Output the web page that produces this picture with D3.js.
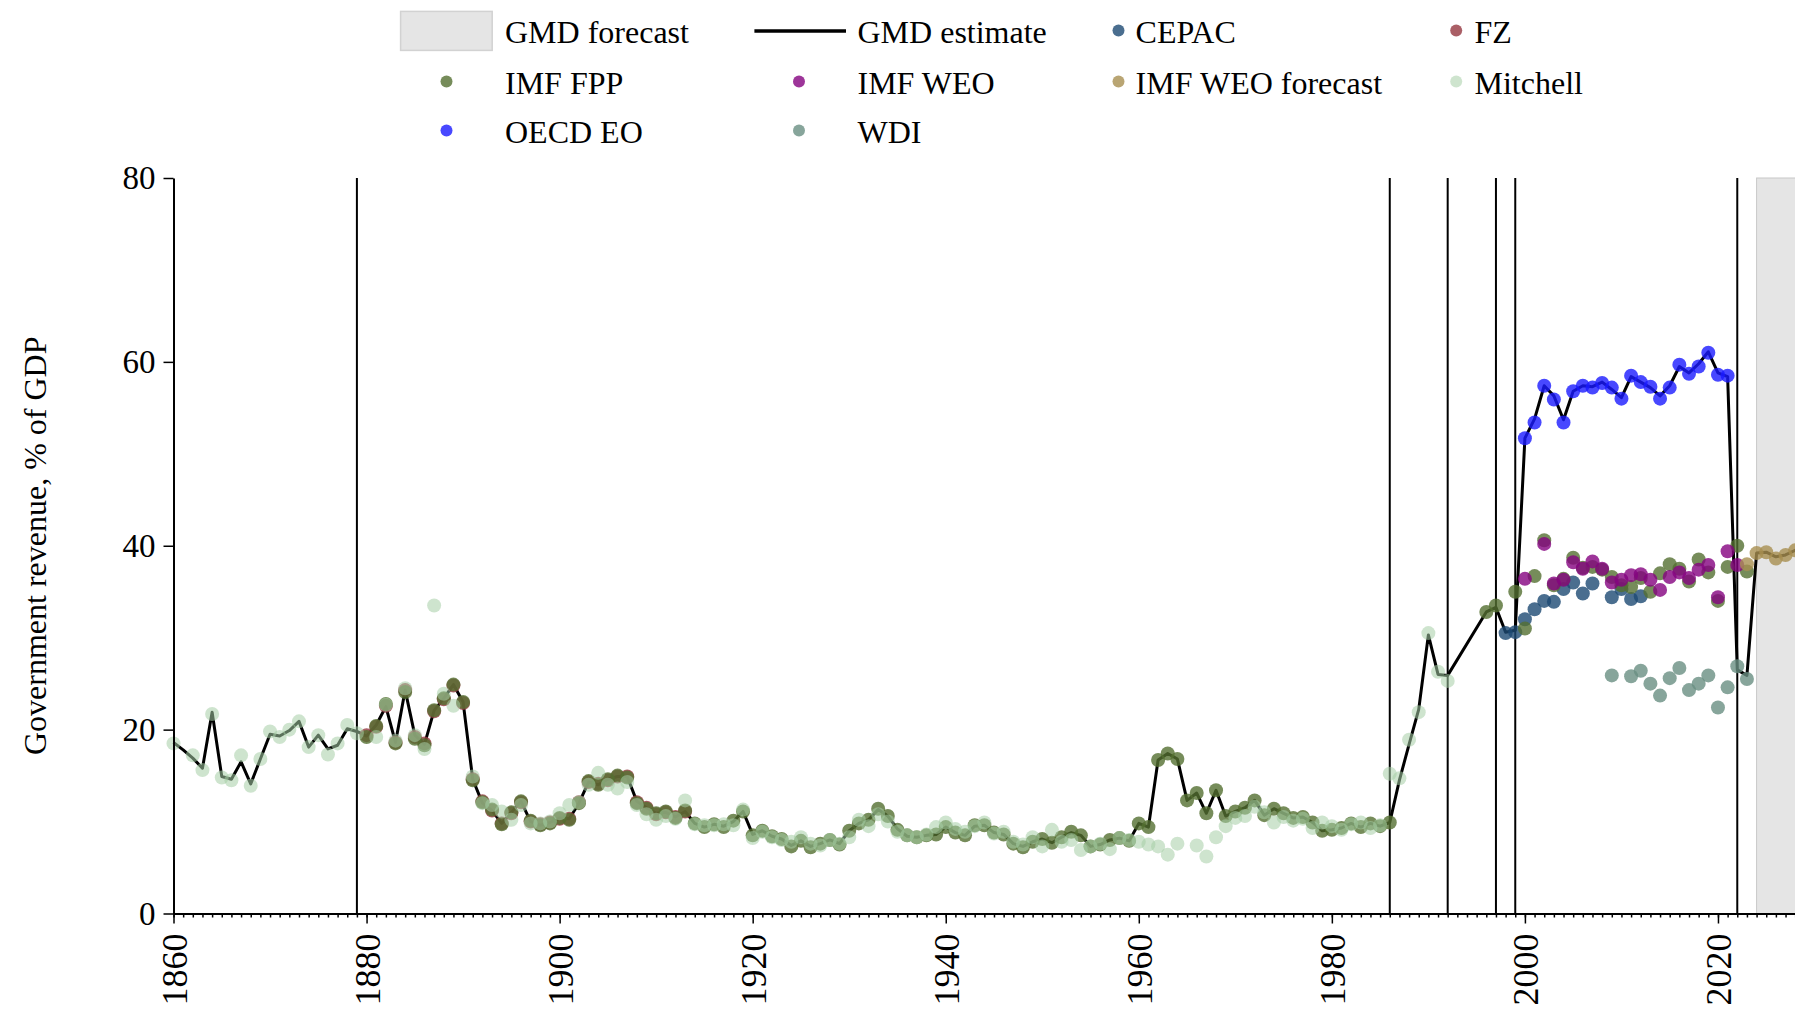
<!DOCTYPE html>
<html><head><meta charset="utf-8">
<script src="https://cdn.jsdelivr.net/npm/d3@7"></script>
<style>
html,body{margin:0;padding:0;background:#fff;}
svg{display:block;font-family:"Liberation Serif","Times New Roman",serif;}
</style></head><body>
<svg id="chart" width="1795" height="1015"></svg>
<script>
// ---------- data ----------
const gmdStart = 1860;
const gmdValues = [
 18.6,17.8,16.9,15.8,21.9,14.9,14.6,16.5,14.1,16.8,
 19.5,19.3,19.9,20.9,18.1,19.4,17.9,18.3,20.1,19.8,
 19.3,20.5,22.5,18.6,24.3,19.4,18.4,22.1,23.4,24.9,
 23.0,14.6,12.0,11.2,9.8,11.0,12.2,10.0,9.6,9.9,
 10.4,10.3,12.0,14.3,14.0,14.6,14.9,14.9,12.2,11.5,
 10.9,11.0,10.5,11.1,9.8,9.4,9.7,9.5,10.0,11.1,
 8.6,9.0,8.4,8.1,7.4,7.9,7.3,7.6,8.0,7.6,
 9.0,9.8,10.2,11.3,10.6,9.2,8.4,8.3,8.5,8.6,
 9.4,8.8,8.5,9.5,9.6,8.8,8.6,7.6,7.3,7.8,
 8.1,7.7,8.3,8.8,8.5,7.3,7.5,8.0,8.2,7.9,
 9.8,9.4,16.7,17.4,16.8,12.3,13.1,10.9,13.4,10.6,
 11.1,11.5,12.3,10.7,11.4,10.9,10.4,10.5,9.9,9.0,
 9.1,9.3,9.8,9.4,9.8,9.5,9.9,14.5,18.4,22.2,
 30.3,26.0,25.9,null,null,null,32.8,33.3,30.6,30.8,
 51.7,53.8,57.4,56.3,53.7,56.8,57.4,57.3,57.8,57.0,
 56.1,58.4,57.8,57.2,56.3,57.4,59.5,58.8,59.8,61.1,
 58.8,58.4,26.5,25.9,39.2,39.3,38.8,39.0,39.5,39.7,
 39.9
];

const cepacStart = 1998;
const cepacValues = [30.5,30.6,32.0,33.1,34.0,33.9,35.3,36.0,34.8,35.9,null,34.4,35.3,34.2,34.5];

const fzStart = 1880;
const fzValues = [
 19.4,20.3,22.6,18.6,24.3,19.2,18.5,22.0,23.3,24.8,
 22.9,14.6,12.2,11.2,9.8,10.9,12.1,10.0,9.7,9.9,
 10.3,10.3,12.1,14.3,14.1,14.5,14.9,14.9,12.1,11.5,
 10.8,11.0,10.5,11.1
];

const fppStart = 1880;
const fppValues = [
 19.2,20.4,22.8,18.5,24.1,19.0,18.3,22.1,23.4,24.9,
 23.0,14.5,12.1,11.3,9.7,11.0,12.2,10.1,9.6,9.8,
 10.4,10.2,12.0,14.4,14.0,14.6,15.0,14.8,12.0,11.4,
 10.9,11.1,10.4,11.2,9.8,9.4,9.7,9.4,10.1,11.1,
 8.5,9.0,8.4,8.1,7.3,7.9,7.2,7.6,8.0,7.5,
 9.0,9.8,10.2,11.4,10.6,9.1,8.5,8.3,8.5,8.6,
 9.4,8.8,8.5,9.6,9.6,8.8,8.6,7.6,7.2,7.8,
 8.1,7.7,8.3,8.9,8.5,7.3,7.5,8.0,8.2,7.9,
 9.8,9.4,16.7,17.4,16.8,12.3,13.1,10.9,13.4,10.6,
 11.1,11.5,12.3,10.7,11.4,10.9,10.4,10.5,9.9,9.0,
 9.1,9.3,9.8,9.4,9.8,9.5,9.9,null,null,null,
 null,null,null,null,null,null,32.8,33.5,null,35.0,
 31.0,36.7,40.6,35.7,36.4,38.7,37.6,37.7,37.4,36.6,
 35.7,35.5,36.5,35.0,37.0,38.0,37.5,36.1,38.5,37.1,
 34.0,37.7,40.0,37.2
];

const weoStart = 2000;
const weoValues = [36.4,null,40.2,35.9,36.3,38.2,37.5,38.3,37.5,36.0,36.3,36.8,36.9,36.3,35.2,36.6,37.1,36.5,37.4,37.9,34.4,39.4,37.9];

const weoFcStart = 2023;
const weoFcValues = [38.0,39.2,39.3,38.6,39.0,39.5,39.7];

const mitchellStart = 1860;
const mitchellValues = [
 18.5,null,17.2,15.6,21.7,14.8,14.5,17.2,13.9,16.8,
 19.8,19.2,20.0,20.9,18.1,19.4,17.3,18.5,20.5,19.6,
 null,19.2,22.7,18.8,24.5,19.4,17.9,33.5,23.9,22.6,
 null,14.9,12.0,11.8,11.1,10.2,11.8,9.8,9.8,10.0,
 10.9,11.8,12.1,14.0,15.3,14.0,13.6,14.3,11.8,10.8,
 10.2,10.6,10.3,12.3,9.7,9.6,9.6,9.7,9.6,11.3,
 8.2,8.9,8.3,8.0,7.8,8.3,7.6,7.4,8.0,7.6,
 8.3,10.2,9.5,10.8,10.0,8.9,8.5,8.3,8.6,9.4,
 9.9,9.2,8.9,9.5,9.9,8.7,8.9,7.8,7.5,8.3,
 7.3,9.1,7.8,8.0,6.9,7.3,7.6,7.0,8.2,8.0,
 7.8,7.5,7.3,6.4,7.6,null,7.4,6.2,8.3,9.5,
 10.4,10.6,11.6,11.0,9.9,10.5,10.1,10.3,9.3,9.9,
 9.5,9.1,9.7,9.9,9.3,9.6,15.2,14.7,18.9,21.9,
 30.5,26.3,25.3
];

const oecdStart = 2000;
const oecdValues = [51.7,53.4,57.4,55.9,53.4,56.8,57.4,57.2,57.7,57.2,56.0,58.5,57.8,57.3,56.0,57.2,59.7,58.7,59.5,61.0,58.6,58.5];

const wdiStart = 2009;
const wdiValues = [25.9,null,25.8,26.4,25.0,23.7,25.6,26.7,24.3,25.0,25.9,22.4,24.6,26.9,25.5];

const breakYears = [1879, 1986, 1992, 1997, 1999, 2022];
const forecastStart = 2024;
const xTicks = [1860,1880,1900,1920,1940,1960,1980,2000,2020];
const yTicks = [0,20,40,60,80];
const yLabel = "Government revenue, % of GDP";

const seriesNames = ["CEPAC","FZ","IMF FPP","IMF WEO","IMF WEO forecast","Mitchell","OECD EO","WDI"];
const seriesData = [
  [cepacStart, cepacValues],
  [fzStart, fzValues],
  [fppStart, fppValues],
  [weoStart, weoValues],
  [weoFcStart, weoFcValues],
  [mitchellStart, mitchellValues],
  [oecdStart, oecdValues],
  [wdiStart, wdiValues]
];
const seriesColors = ["#1d4a73","#953740","#546f31","#84037f","#a78f50","#a5cda5","#1a1aff","#698e82"];
const seriesOpacity = [0.8,0.8,0.8,0.8,0.8,0.55,0.8,0.8];

// ---------- chart ----------
const svg = d3.select("#chart");
const x = d3.scaleLinear().domain([1860, 2030]).range([173.5, 1814.5]);
const y = d3.scaleLinear().domain([0, 80]).range([913.5, 178]);

const toPts = (start, vals) => vals.map((v,i)=>({year:start+i, v})).filter(d=>d.v!=null);

const plot = svg.append("g");

plot.append("rect")
  .attr("x", x(forecastStart)).attr("y", y(80))
  .attr("width", x(2030)-x(forecastStart)).attr("height", y(0)-y(80))
  .attr("fill", "#e5e5e5").attr("stroke", "#c8c8c8").attr("stroke-width", 1);

plot.selectAll("line.brk").data(breakYears).join("line")
  .attr("class","brk")
  .attr("x1", d=>x(d)).attr("x2", d=>x(d))
  .attr("y1", y(0)).attr("y2", y(80))
  .attr("stroke", "#000").attr("stroke-width", 2);

const gmdPts = toPts(gmdStart, gmdValues);
plot.append("path").datum(gmdPts)
  .attr("fill","none").attr("stroke","#000").attr("stroke-width",3)
  .attr("stroke-linejoin","round")
  .attr("d", d3.line().x(d=>x(d.year)).y(d=>y(d.v)));

seriesData.forEach((s, i) => {
  plot.append("g").selectAll("circle").data(toPts(s[0], s[1])).join("circle")
    .attr("cx", d=>x(d.year)).attr("cy", d=>y(d.v)).attr("r", 7)
    .attr("fill", seriesColors[i]).attr("fill-opacity", seriesOpacity[i]);
});

// x axis
const minor = d3.axisBottom(x).tickValues(d3.range(1860, 2031)).tickSize(4).tickFormat("").tickSizeOuter(0);
const gxm = svg.append("g").attr("transform", `translate(0,${y(0)})`).call(minor);
gxm.select(".domain").attr("stroke-width", 2);
gxm.selectAll(".tick line").attr("stroke-width", 1.5);

const major = d3.axisBottom(x).tickValues(xTicks).tickSize(10).tickFormat(d3.format("d")).tickSizeOuter(0);
const gx = svg.append("g").attr("transform", `translate(0,${y(0)})`).call(major);
gx.select(".domain").remove();
gx.selectAll(".tick line").attr("stroke-width", 1.5);
gx.selectAll(".tick text")
  .attr("font-size", 36).attr("font-family", '"Liberation Serif","Times New Roman",serif')
  .attr("fill","#000")
  .attr("transform","rotate(-90)")
  .attr("text-anchor","end")
  .attr("x", -20).attr("y", 0).attr("dy", "0.35em");

// y axis
const gy = svg.append("g").attr("transform", `translate(${x(1860)},0)`)
  .call(d3.axisLeft(y).tickValues(yTicks).tickSize(10).tickPadding(8).tickSizeOuter(0));
gy.select(".domain").attr("stroke-width", 2);
gy.selectAll(".tick line").attr("stroke-width", 1.5);
gy.selectAll(".tick text").attr("font-size", 33).attr("fill","#000")
  .attr("font-family", '"Liberation Serif","Times New Roman",serif');

svg.append("text")
  .attr("transform", `translate(35,${(y(0)+y(80))/2}) rotate(-90)`)
  .attr("text-anchor","middle").attr("dy","0.35em")
  .attr("font-size", 32).text(yLabel);

// ---------- legend ----------
const leg = svg.append("g").attr("font-size", 32);
const rowBase = [43, 94, 143];
leg.append("rect").attr("x",400.6).attr("y",11.4).attr("width",91.6).attr("height",39)
  .attr("fill","#e5e5e5").attr("stroke","#d2d2d2").attr("stroke-width",1.5);
leg.append("text").attr("x",505).attr("y",rowBase[0]).text("GMD forecast");
leg.append("line").attr("x1",754.4).attr("x2",846).attr("y1",31).attr("y2",31)
  .attr("stroke","#000").attr("stroke-width",3.5);
leg.append("text").attr("x",857.5).attr("y",rowBase[0]).text("GMD estimate");

const legPos = [
  {mx:1118.5, tx:1135.6, row:0},
  {mx:1456.2, tx:1474.5, row:0},
  {mx:446.5, tx:505, row:1},
  {mx:799, tx:857.5, row:1},
  {mx:1118.5, tx:1135.6, row:1},
  {mx:1456.2, tx:1474.5, row:1},
  {mx:446.5, tx:505, row:2},
  {mx:799, tx:857.5, row:2}
];
seriesNames.forEach((name, i) => {
  const p = legPos[i];
  leg.append("circle").attr("cx", p.mx).attr("cy", rowBase[p.row]-12.5).attr("r", 6)
    .attr("fill", seriesColors[i]).attr("fill-opacity", seriesOpacity[i]);
  leg.append("text").attr("x", p.tx).attr("y", rowBase[p.row]).text(name);
});
</script>
</body></html>
